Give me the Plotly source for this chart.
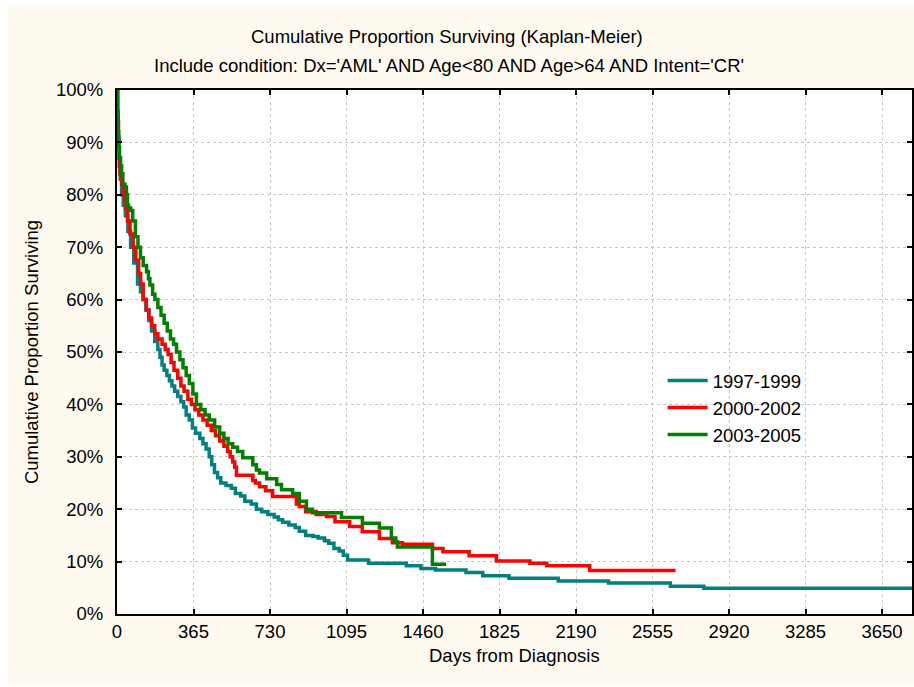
import plotly.graph_objects as go

# ---- data ----
teal_days = [0, 3, 6, 10, 15, 22, 30, 40, 52, 65, 80, 98, 112, 124, 138, 152, 165, 180, 195, 205,
             215, 225, 238, 250, 262, 275, 290, 305, 318, 330, 345, 360, 375, 395, 410, 425, 440,
             452, 465, 480, 495, 520, 545, 565, 590, 610, 640, 665, 690, 720, 750, 770, 790, 820,
             850, 870, 900, 935, 960, 990, 1010, 1035, 1060, 1080, 1100, 1200, 1380, 1450, 1520,
             1665, 1745, 1870, 2105, 2345, 2640, 2800, 3800]
teal_surv = [1.00, 0.95, 0.91, 0.87, 0.83, 0.80, 0.78, 0.76, 0.73, 0.70, 0.67, 0.63, 0.615, 0.60,
             0.58, 0.56, 0.54, 0.52, 0.505, 0.49, 0.475, 0.465, 0.455, 0.445, 0.435, 0.425, 0.415,
             0.405, 0.395, 0.38, 0.37, 0.355, 0.345, 0.335, 0.325, 0.315, 0.30, 0.285, 0.27, 0.26,
             0.25, 0.245, 0.24, 0.23, 0.225, 0.215, 0.21, 0.20, 0.195, 0.19, 0.185, 0.18, 0.175,
             0.17, 0.165, 0.158, 0.15, 0.148, 0.145, 0.14, 0.135, 0.125, 0.12, 0.112, 0.103, 0.097,
             0.092, 0.087, 0.084, 0.079, 0.073, 0.068, 0.063, 0.059, 0.053, 0.049, 0.049]

red_days = [0, 3, 7, 11, 14, 22, 30, 40, 50, 62, 77, 90, 103, 113, 125, 140, 152, 165, 180, 195,
            215, 230, 244, 258, 272, 290, 305, 320, 338, 355, 372, 390, 410, 430, 450, 470, 490,
            510, 528, 540, 552, 562, 570, 648, 660, 680, 710, 742, 856, 870, 900, 950, 1000, 1040,
            1110, 1170, 1252, 1314, 1362, 1505, 1555, 1680, 1810, 1970, 2050, 2255, 2665]
red_surv = [1.00, 0.94, 0.89, 0.855, 0.84, 0.82, 0.80, 0.775, 0.75, 0.725, 0.70, 0.675, 0.65, 0.63,
            0.60, 0.58, 0.565, 0.55, 0.535, 0.525, 0.515, 0.505, 0.495, 0.48, 0.465, 0.45, 0.435,
            0.425, 0.41, 0.40, 0.39, 0.38, 0.37, 0.36, 0.35, 0.34, 0.33, 0.32, 0.31, 0.30, 0.29,
            0.28, 0.265, 0.255, 0.25, 0.243, 0.235, 0.224, 0.21, 0.205, 0.195, 0.19, 0.186, 0.176,
            0.167, 0.157, 0.144, 0.136, 0.133, 0.125, 0.119, 0.111, 0.101, 0.097, 0.092, 0.083,
            0.083]

green_days = [0, 2, 5, 8, 12, 17, 22, 28, 38, 45, 50, 55, 65, 75, 88, 100, 112, 125, 141, 150, 157,
              170, 181, 195, 210, 225, 240, 255, 270, 284, 300, 315, 330, 345, 362, 379, 400, 420,
              440, 466, 490, 510, 530, 552, 575, 600, 648, 665, 680, 714, 762, 785, 838, 870, 904,
              933, 1071, 1171, 1252, 1309, 1330, 1338, 1505, 1570]
green_surv = [1.00, 0.96, 0.92, 0.89, 0.87, 0.855, 0.84, 0.82, 0.815, 0.80, 0.78, 0.775, 0.77, 0.75,
              0.72, 0.70, 0.68, 0.665, 0.653, 0.64, 0.628, 0.61, 0.60, 0.585, 0.57, 0.555, 0.54,
              0.525, 0.515, 0.50, 0.485, 0.47, 0.455, 0.44, 0.42, 0.40, 0.39, 0.38, 0.37, 0.357,
              0.345, 0.335, 0.325, 0.318, 0.31, 0.298, 0.285, 0.275, 0.269, 0.258, 0.247, 0.237,
              0.23, 0.215, 0.20, 0.193, 0.184, 0.173, 0.164, 0.145, 0.138, 0.128, 0.095, 0.095]

series_names = ["1997-1999", "2000-2002", "2003-2005"]
x_ticks = [0, 365, 730, 1095, 1460, 1825, 2190, 2555, 2920, 3285, 3650]
y_ticks = [0, 0.1, 0.2, 0.3, 0.4, 0.5, 0.6, 0.7, 0.8, 0.9, 1.0]
y_tick_text = ["0%", "10%", "20%", "30%", "40%", "50%", "60%", "70%", "80%", "90%", "100%"]

title1 = "Cumulative Proportion Surviving (Kaplan-Meier)"
title2 = "Include condition: Dx='AML' AND Age<80 AND Age>64 AND Intent='CR'"
x_title = "Days from Diagnosis"
y_title = "Cumulative Proportion Surviving"

# ---- figure ----
W, H = 914, 687
L, R, T, B = 117, 0, 90, 73
pw, ph = W - L - R, H - T - B

def px_x(p):
    return (p - L) / pw

def px_y(p):
    return (H - B - p) / ph

FONT = "Liberation Sans, Arial, sans-serif"
FS = 18.5
colors = ["#008080", "#FF0000", "#008000"]
data = [(teal_days, teal_surv), (red_days, red_surv), (green_days, green_surv)]
legends = ["legend", "legend2", "legend3"]
legend_y_px = [381, 408, 435]

fig = go.Figure()
for (d, s), name, c, lg in zip(data, series_names, colors, legends):
    fig.add_trace(go.Scatter(x=d, y=s, mode="lines", name=name, line=dict(color=c, width=3.5, shape="hv"),
                             legend=lg, showlegend=True))

leg_common = dict(bgcolor="rgba(0,0,0,0)", borderwidth=0, font=dict(family=FONT, size=FS, color="black"),
                  xanchor="left", yanchor="middle", x=px_x(664), itemwidth=40)

fig.update_layout(
    width=W, height=H,
    margin=dict(l=L, r=R, t=T, b=B, pad=0),
    paper_bgcolor="white",
    plot_bgcolor="white",
    font=dict(family=FONT, size=FS, color="black"),
    legend=dict(**leg_common, y=px_y(legend_y_px[0])),
    legend2=dict(**leg_common, y=px_y(legend_y_px[1])),
    legend3=dict(**leg_common, y=px_y(legend_y_px[2])),
    xaxis=dict(range=[0, 3793], tickvals=x_ticks, ticks="inside", ticklen=5, tickwidth=2, tickcolor="black",
               showline=True, linecolor="black", linewidth=2, mirror="ticks",
               showgrid=True, gridcolor="#c8c8c8", griddash="dot", gridwidth=1, zeroline=False,
               tickfont=dict(family=FONT, size=FS), ticklabelstandoff=0),
    yaxis=dict(range=[0, 1], tickvals=y_ticks, ticktext=y_tick_text, ticks="inside", ticklen=5, tickwidth=2,
               tickcolor="black", showline=True, linecolor="black", linewidth=2, mirror="ticks",
               showgrid=True, gridcolor="#c8c8c8", griddash="dot", gridwidth=1, zeroline=False,
               tickfont=dict(family=FONT, size=FS), ticklabelstandoff=8,
               title=dict(text=y_title, font=dict(family=FONT, size=FS), standoff=12)),
    shapes=[
        dict(type="rect", xref="paper", yref="paper", x0=px_x(7), x1=px_x(920), y0=px_y(685), y1=px_y(7),
             fillcolor="#FFFAF0", line=dict(width=0), layer="below"),
        dict(type="rect", xref="paper", yref="paper", x0=0, x1=1, y0=0, y1=1,
             fillcolor="white", line=dict(width=0), layer="below"),
    ],
    annotations=[
        dict(text=title1, xref="paper", yref="paper", x=px_x(448), y=px_y(36), showarrow=False,
             xanchor="center", yanchor="middle", font=dict(family=FONT, size=FS)),
        dict(text=title2, xref="paper", yref="paper", x=px_x(450), y=px_y(66), showarrow=False,
             xanchor="center", yanchor="middle", font=dict(family=FONT, size=FS)),
        dict(text=x_title, xref="paper", yref="paper", x=px_x(515), y=px_y(655), showarrow=False,
             xanchor="center", yanchor="middle", font=dict(family=FONT, size=FS)),
    ],
)

fig.write_html("out.html")
